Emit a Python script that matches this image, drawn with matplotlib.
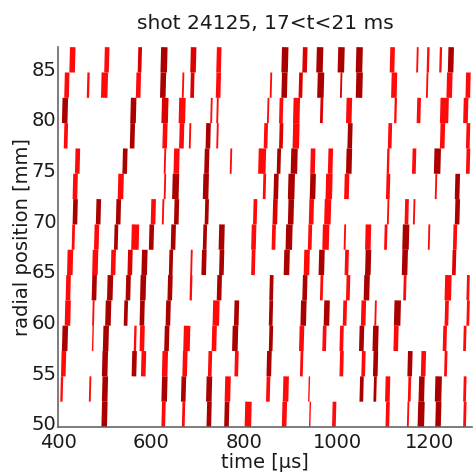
import matplotlib
matplotlib.use("Agg")
import matplotlib.pyplot as plt
from matplotlib.transforms import ScaledTranslation

# radial channels: lower edge of each 2.5 mm channel, top row first
channel_edges = [85.0, 82.5, 80.0, 77.5, 75.0, 72.5, 70.0, 67.5, 65.0, 62.5, 60.0, 57.5, 55.0, 52.5, 50.0]
channel_height = 2.5

# event times [us] per channel (same order as channel_edges)
seg_times = [
    [431, 505, 576, 628, 691, 746, 888, 931, 963, 1009, 1048, 1119, 1173, 1196, 1223, 1245],
    [419, 465, 500, 573, 626, 669, 689, 745, 858, 887, 922, 965, 1009, 1048, 1123, 1194, 1242, 1282],
    [415, 562, 630, 667, 730, 743, 852, 880, 913, 967, 1026, 1126, 1176, 1231, 1277],
    [417, 560, 630, 666, 684, 723, 743, 847, 880, 912, 1028, 1114, 1227, 1282],
    [442, 544, 630, 655, 720, 772, 839, 875, 908, 948, 986, 1026, 1110, 1166, 1216, 1282],
    [437, 535, 630, 653, 718, 844, 869, 902, 948, 983, 1021, 1110, 1213, 1259],
    [437, 487, 530, 605, 626, 655, 720, 824, 867, 901, 945, 980, 1110, 1150, 1166, 1259],
    [433, 483, 525, 566, 601, 648, 716, 752, 821, 864, 897, 942, 976, 1017, 1067, 1105, 1148, 1198, 1254],
    [426, 480, 519, 555, 586, 643, 687, 714, 752, 820, 892, 935, 967, 1021, 1067, 1146, 1252],
    [422, 478, 512, 551, 583, 641, 686, 747, 859, 931, 967, 1024, 1064, 1146, 1239, 1282],
    [421, 476, 508, 546, 581, 637, 740, 784, 858, 928, 978, 1017, 1057, 1083, 1130, 1236, 1282],
    [415, 475, 503, 566, 581, 634, 677, 736, 781, 858, 924, 973, 1010, 1053, 1083, 1127, 1232, 1275],
    [412, 501, 564, 584, 630, 673, 727, 784, 854, 924, 1010, 1057, 1083, 1157, 1186, 1234],
    [408, 469, 501, 629, 670, 725, 765, 852, 890, 940, 1053, 1082, 1109, 1156, 1182, 1218, 1275],
    [500, 627, 670, 725, 763, 809, 887, 942, 994, 1109, 1153, 1181, 1218, 1275],
]

# event amplitude (drawn as line width)
seg_amps = [
    [12, 10, 8, 14, 12, 10, 14, 10, 14, 14, 14, 10, 4, 5, 5, 12],
    [10, 5, 14, 10, 12, 4, 8, 10, 4, 12, 8, 14, 4, 14, 12, 4, 12, 10],
    [12, 12, 14, 14, 4, 4, 4, 8, 14, 6, 12, 5, 8, 18, 10],
    [8, 10, 10, 10, 4, 10, 4, 8, 8, 14, 10, 8, 10, 8],
    [10, 10, 4, 12, 10, 4, 16, 8, 14, 10, 10, 12, 5, 8, 14, 8],
    [10, 12, 4, 14, 12, 6, 10, 14, 12, 14, 10, 8, 4, 10],
    [10, 10, 10, 10, 4, 10, 8, 8, 10, 12, 10, 14, 4, 8, 4, 10],
    [6, 10, 8, 16, 10, 10, 8, 12, 10, 8, 14, 8, 14, 4, 12, 6, 14, 4, 8],
    [12, 12, 10, 10, 12, 8, 4, 10, 10, 8, 12, 12, 12, 8, 12, 12, 8],
    [10, 10, 12, 10, 12, 10, 5, 10, 8, 10, 6, 8, 12, 6, 14, 6],
    [12, 4, 12, 8, 10, 10, 14, 10, 8, 12, 12, 8, 10, 4, 14, 8, 6],
    [12, 3, 12, 5, 10, 10, 14, 10, 12, 8, 10, 8, 8, 10, 12, 10, 8, 6],
    [10, 12, 10, 10, 12, 10, 8, 8, 10, 6, 8, 8, 10, 10, 10, 6],
    [5, 4, 12, 12, 10, 12, 12, 8, 12, 3, 8, 6, 10, 6, 12, 14, 6],
    [12, 8, 6, 10, 10, 14, 10, 3, 8, 8, 4, 14, 12, 6],
]

# shade class per event: 0 bright, 1 medium, 2 dark
seg_shades = [
    [0, 0, 1, 2, 1, 0, 2, 1, 2, 2, 2, 0, 0, 0, 0, 2],
    [0, 0, 0, 0, 2, 0, 1, 0, 0, 2, 1, 2, 1, 2, 0, 0, 0, 0],
    [2, 2, 1, 0, 0, 0, 0, 0, 0, 1, 0, 0, 0, 0, 0],
    [0, 2, 0, 0, 0, 2, 0, 0, 1, 0, 2, 0, 0, 0],
    [0, 2, 0, 0, 2, 0, 0, 2, 2, 0, 0, 2, 0, 0, 2, 0],
    [0, 0, 0, 2, 2, 0, 2, 2, 2, 0, 0, 0, 0, 2],
    [2, 2, 2, 0, 0, 2, 2, 0, 1, 2, 0, 0, 0, 0, 0, 2],
    [0, 0, 2, 0, 2, 2, 2, 2, 0, 0, 2, 0, 0, 0, 0, 0, 2, 0, 0],
    [0, 0, 0, 1, 2, 2, 0, 2, 2, 0, 2, 0, 2, 0, 2, 2, 1],
    [0, 2, 2, 2, 2, 2, 0, 2, 2, 2, 0, 0, 2, 0, 0, 0],
    [0, 0, 2, 2, 2, 2, 0, 2, 2, 2, 2, 0, 0, 0, 2, 0, 0],
    [2, 0, 2, 0, 0, 2, 0, 0, 2, 2, 0, 0, 0, 2, 2, 0, 0, 0],
    [0, 2, 2, 0, 0, 0, 0, 0, 2, 0, 0, 0, 2, 2, 0, 0],
    [0, 0, 2, 2, 2, 2, 0, 0, 0, 0, 2, 2, 0, 0, 2, 2, 0],
    [2, 0, 0, 2, 2, 0, 0, 0, 0, 0, 0, 2, 2, 0],
]

shade_colors = ["#ff0a0a", "#dc0000", "#ab0000"]

fig = plt.figure(figsize=(4.74, 4.76), dpi=100)
ax = fig.add_axes([0.1224, 0.1029, 0.873, 0.798])

for y0, times, amps, shades in zip(channel_edges, seg_times, seg_amps, seg_shades):
    for t, a, s in zip(times, amps, shades):
        ax.plot([t - 0.7, t + 0.7], [y0, y0 + channel_height], color=shade_colors[s],
                lw=a / 3.0, solid_capstyle="butt")

ax.set_xlim(400, 1290)
ax.set_ylim(50, 87.5)
ax.set_xticks([400, 600, 800, 1000, 1200])
ax.set_yticks([50, 55, 60, 65, 70, 75, 80, 85])
ax.tick_params(length=0, labelsize=14, colors="#1a1a1a")
ax.tick_params(axis="y", pad=1)
ax.tick_params(axis="x", pad=4)
# lift the y labels a little so "50" sits just above "400"
lift = ScaledTranslation(0, 3 / 72, fig.dpi_scale_trans)
for lab in ax.get_yticklabels():
    lab.set_transform(lab.get_transform() + lift)
for side in ["top", "right"]:
    ax.spines[side].set_visible(False)
for side in ["left", "bottom"]:
    ax.spines[side].set_color("#666666")
    ax.spines[side].set_linewidth(1.2)

ax.set_xlabel("time [µs]", fontsize=14, labelpad=1, color="#1a1a1a")
ax.set_ylabel("radial position [mm]", fontsize=14, labelpad=0, color="#1a1a1a")
ax.set_title("shot 24125, 17<t<21 ms", fontsize=14.5, pad=13, color="#1a1a1a")

fig.savefig("out.png", dpi=100)
